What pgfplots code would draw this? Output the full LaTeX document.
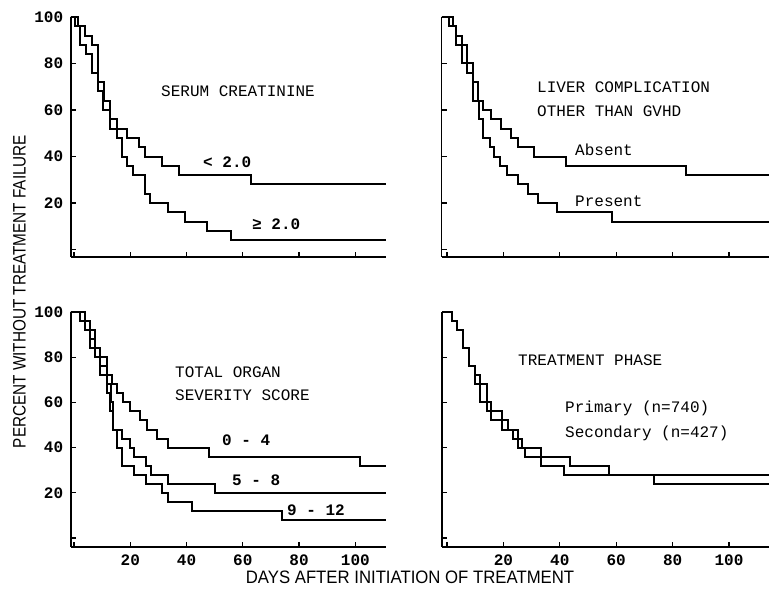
\documentclass[border=0pt]{standalone}
\usepackage{fontspec}
\setmainfont{Liberation Mono}
\newfontfamily\lblfont[FakeStretch=0.85]{Liberation Sans}
\newfontfamily\xlblfont[FakeStretch=0.93]{Liberation Sans}
\usepackage{pgfplots}
\pgfplotsset{compat=1.18}
\pgfplotsset{
  km/.style={scale only axis, clip=false, axis x line*=bottom, axis y line*=left,
    axis line style={line width=1.8bp}, tick align=inside, major tick length=5bp,
    every tick/.append style={line width=1.3bp, black},
    xtick={0,20,40,60,80,100}, ytick={0,20,40,60,80,100},
    /pgf/number format/assume math mode=true,
    tick label style={font=\fontsize{16bp}{16bp}\selectfont\bfseries},
    xticklabels={,20,40,60,80,100}, yticklabels={,20,40,60,80,100},
    yticklabel style={xshift=-4bp}, xticklabel style={yshift=-5bp}},
  noxl/.style={xticklabels={,,,,,}},
  noyl/.style={yticklabels={,,,,,}},
  stp/.style={const plot, black, line width=2bp, mark=none},
}
\begin{document}
\begin{tikzpicture}[x=1bp,y=1bp]
\path[use as bounding box] (0,0) rectangle (769,591);
% top left
\begin{axis}[km, noxl, at={(70.7bp,334bp)}, anchor=south west, width=315.3bp, height=240bp,
  xmin=-1.2, xmax=110.9, ymin=-3.2, ymax=100]
\addplot[stp] coordinates {(-1.2,100)(1.5,96)(3.9,92)(6.3,88)(8.4,72)(10.8,64)(12.8,56)(15.2,52)(18.7,48)(23.1,44)(25.2,40)(31.2,36)(37.3,32)(62.8,28)(110.9,28)};
\addplot[stp] coordinates {(-1.2,100)(0.5,96)(2.1,88)(4.3,84)(6.3,76)(8.4,68)(10.2,60)(12.6,52)(15.2,48)(16.9,40)(18.7,36)(20.9,32)(25.2,24)(27,20)(33.5,16)(39.5,12)(47.2,8)(55.7,4)(110.9,4)};
\end{axis}
% top right
\begin{axis}[km, noxl, noyl, at={(441.5bp,334bp)}, anchor=south west, width=327.5bp, height=240bp,
  xmin=-1.95, xmax=114.2, ymin=-3.2, ymax=100]
\addplot[stp] coordinates {(-1.95,100)(2.0,96)(3.2,92)(5.2,88)(7.0,80)(9.3,72)(11.1,64)(12.9,60)(15.6,56)(19.1,52)(22.7,48)(25.1,44)(31,40)(42.2,36)(84.8,32)(114.2,32)};
\addplot[stp] coordinates {(-1.95,100)(0.8,96)(3.2,88)(5.2,80)(7.0,76)(9.3,64)(11.5,56)(12.9,48)(15.2,44)(16.8,40)(18.8,36)(21.2,32)(25.1,28)(28.8,24)(32.4,20)(38.9,16)(58.4,12)(114.2,12)};
\end{axis}
% bottom left
\begin{axis}[km, at={(70.7bp,44.3bp)}, anchor=south west, width=315.3bp, height=234.7bp,
  xmin=-1.2, xmax=110.9, ymin=-3.85, ymax=100]
\addplot[stp] coordinates {(-1.2,100)(3.9,96)(5.7,92)(7.5,84)(9.2,80)(11.6,72)(13.4,68)(15.2,64)(17.5,60)(19.9,56)(23.5,52)(25.8,48)(29.4,44)(33.5,40)(47.8,36)(101.7,32)(110.9,32)};
\addplot[stp] coordinates {(-1.2,100)(2.1,96)(5.7,88)(7.5,80)(9.2,76)(11.6,68)(13.0,60)(14,48)(16.9,44)(19.9,40)(21.3,36)(25.6,32)(27.3,28)(33.5,24)(50.1,20)(110.9,20)};
\addplot[stp] coordinates {(-1.2,100)(2.1,96)(3.9,92)(5.7,84)(7.5,80)(9.2,72)(11.6,64)(12.6,56)(14,48)(15.2,40)(17.2,32)(21.3,28)(25.6,24)(31.2,20)(33.5,16)(41.8,12)(73.8,8)(110.9,8)};
\end{axis}
% bottom right
\begin{axis}[km, noyl, at={(442bp,44.3bp)}, anchor=south west, width=327bp, height=234.7bp,
  xmin=-1.8, xmax=114.2, ymin=-3.85, ymax=100]
\addplot[stp] coordinates {(-1.8,100)(1.7,96)(3.4,92)(5.6,84)(7.6,76)(9.9,68)(11.7,60)(14.1,56)(19.4,48)(23.5,44)(26.5,40)(33.2,32)(41.6,28)(114.2,28)};
\addplot[stp] coordinates {(-1.8,100)(1.7,96)(3.4,92)(5.6,84)(7.6,76)(9.9,72)(11.7,68)(14.1,60)(15.6,52)(21.7,48)(25.3,40)(27.7,36)(43.6,32)(57.6,28)(73.4,24)(114.2,24)};
\end{axis}
% texts
\begin{scope}[every node/.style={inner sep=0pt, anchor=base west, font=\fontsize{16bp}{16bp}\selectfont}]
\node at (161,494.7) {SERUM CREATININE};
\node[font=\fontsize{16bp}{16bp}\selectfont\bfseries] at (203,423.4) {< 2.0};
\node[font=\fontsize{16bp}{16bp}\selectfont\bfseries] at (252,361.4) {≥ 2.0};
\node at (537,498.4) {LIVER COMPLICATION};
\node at (537,474.4) {OTHER THAN GVHD};
\node at (575,435.4) {Absent};
\node at (575,384.4) {Present};
\node at (175,213.4) {TOTAL ORGAN};
\node at (175,190.4) {SEVERITY SCORE};
\node[font=\fontsize{16bp}{16bp}\selectfont\bfseries] at (222,145.4) {0 - 4};
\node[font=\fontsize{16bp}{16bp}\selectfont\bfseries] at (232,105.4) {5 - 8};
\node[font=\fontsize{16bp}{16bp}\selectfont\bfseries] at (287,75.7) {9 - 12};
\node at (518,225.4) {TREATMENT PHASE};
\node at (565,178.4) {Primary (n=740)};
\node at (565,153.4) {Secondary (n=427)};
\end{scope}
\node[inner sep=0pt, rotate=90, font=\lblfont\fontsize{18bp}{18bp}\selectfont] at (19.5,299.5) {PERCENT WITHOUT TREATMENT FAILURE};
\node[inner sep=0pt, anchor=base, font=\xlblfont\fontsize{18bp}{18bp}\selectfont] at (410,7) {DAYS AFTER INITIATION OF TREATMENT};
\end{tikzpicture}
\end{document}
